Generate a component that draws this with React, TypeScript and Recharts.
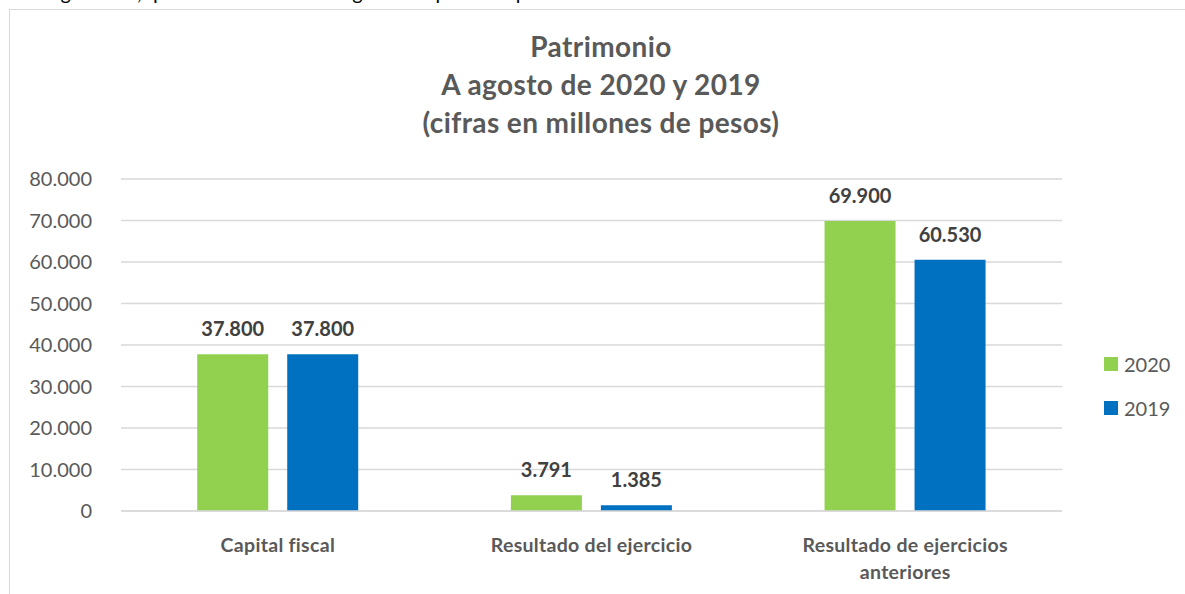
import { BarChart, Bar, XAxis, YAxis, CartesianGrid, LabelList } from 'recharts'

const categories = ['Capital fiscal', 'Resultado del ejercicio', 'Resultado de ejercicios anteriores']
const values2020 = [37800, 3791, 69900]
const values2019 = [37800, 1385, 60530]
const yTicks = [0, 10000, 20000, 30000, 40000, 50000, 60000, 70000, 80000]
const seriesNames = ['2020', '2019']
const seriesColors = ['#92D050', '#0070C0']
const titleLines = ['Patrimonio', 'A agosto de 2020 y 2019', '(cifras en millones de pesos)']

const data = categories.map((name, i) => ({ name, v2020: values2020[i], v2019: values2019[i] }))

const FONT = 'Lato, "Open Sans", sans-serif'

// es-CO style thousands separator
const fmt = (v: number) => String(v).replace(/\B(?=(\d{3})+(?!\d))/g, '.')

// wrap category names the way Excel does when they don't fit the band
function wrap(label: string, maxChars: number) {
  const lines: string[] = []
  let cur = ''
  for (const w of label.split(' ')) {
    const next = cur ? cur + ' ' + w : w
    if (next.length > maxChars && cur) {
      lines.push(cur)
      cur = w
    } else {
      cur = next
    }
  }
  if (cur) lines.push(cur)
  return lines
}

function CategoryTick(props: any) {
  const { x, y, payload } = props
  const lines = wrap(payload.value, 25)
  return (
    <text
      x={x}
      y={y + 33}
      textAnchor="middle"
      fill="#595959"
      style={{ fontFamily: FONT, fontSize: 19.5, fontWeight: 700, letterSpacing: 0.3 }}
    >
      {lines.map((l, i) => (
        <tspan key={i} x={x} dy={i === 0 ? 0 : 27}>
          {l}
        </tspan>
      ))}
    </text>
  )
}

export default function App() {
  return (
    <div style={{ position: 'fixed', left: 0, top: 0, width: 1185, height: 594, overflow: 'hidden', background: '#fff', fontFamily: FONT }}>
      <div style={{ position: 'absolute', left: 0, top: -18, fontSize: 20, lineHeight: '20px', color: '#000', whiteSpace: 'nowrap' }}>
        las obligaciones, que tiene la entidad de gobierno para cumplir las funciones de cometido estatal.
      </div>
      <div style={{ position: 'absolute', left: 9, top: 9, width: 1300, height: 700, border: '1.5px solid #D9D9D9' }} />
      <div style={{ position: 'absolute', left: 0, width: 1202, top: 27, textAlign: 'center', color: '#595959', fontWeight: 700, fontSize: 28, letterSpacing: 0.4, lineHeight: '38px' }}>
        {titleLines.map((t) => (
          <div key={t}>{t}</div>
        ))}
      </div>
      <div style={{ position: 'absolute', left: 1104, top: 342, color: '#595959', fontSize: 20 }}>
        {seriesNames.map((s, i) => (
          <div key={s} style={{ display: 'flex', alignItems: 'center', height: 44 }}>
            <span style={{ width: 14, height: 14, background: seriesColors[i], display: 'inline-block', marginRight: 6 }} />
            {s}
          </div>
        ))}
      </div>
      <div style={{ position: 'absolute', left: 0, top: 0 }}>
        <BarChart
          width={1185}
          height={594}
          data={data}
          margin={{ top: 179, right: 123, bottom: 23, left: 0 }}
          barCategoryGap="24.3%"
          barGap={19}
        >
          <CartesianGrid vertical={false} stroke="#D9D9D9" strokeWidth={1.3} />
          <YAxis
            width={121}
            domain={[0, 80000]}
            ticks={yTicks}
            axisLine={false}
            tickLine={false}
            tickMargin={23}
            tickFormatter={fmt}
            tick={{ fill: '#595959', fontSize: 20, fontFamily: FONT }}
          />
          <XAxis
            dataKey="name"
            height={60}
            axisLine={{ stroke: '#D9D9D9', strokeWidth: 1.3 }}
            tickLine={false}
            interval={0}
            tick={<CategoryTick />}
          />
          <Bar dataKey="v2020" name={seriesNames[0]} fill={seriesColors[0]} isAnimationActive={false}>
            <LabelList dataKey="v2020" position="top" offset={18} formatter={(v: any) => fmt(v)} fill="#404040" style={{ fontFamily: FONT, fontSize: 20, fontWeight: 700 }} />
          </Bar>
          <Bar dataKey="v2019" name={seriesNames[1]} fill={seriesColors[1]} isAnimationActive={false}>
            <LabelList dataKey="v2019" position="top" offset={18} formatter={(v: any) => fmt(v)} fill="#404040" style={{ fontFamily: FONT, fontSize: 20, fontWeight: 700 }} />
          </Bar>
        </BarChart>
      </div>
    </div>
  )
}
